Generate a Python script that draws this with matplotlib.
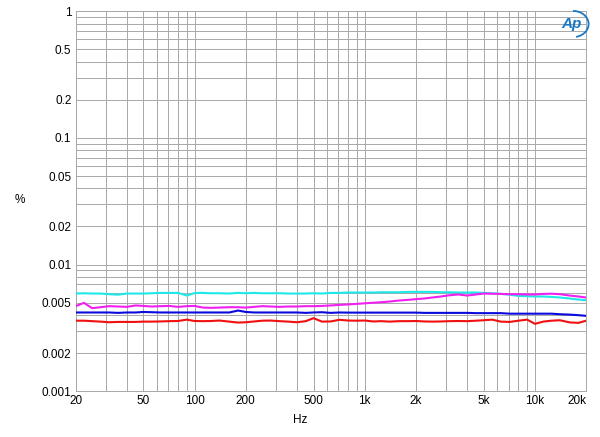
import numpy as np
import matplotlib.pyplot as plt
from matplotlib.patches import Arc

plt.rcParams['font.family'] = ['Liberation Sans', 'DejaVu Sans']

# ---------------------------------------------------------------------------
# Data (THD+N %)
# ---------------------------------------------------------------------------
freqs = [20, 22.4, 25, 28, 31.5, 35.5, 40, 45, 50, 56, 63, 71, 80, 90,
         100, 112, 125, 140, 160, 180, 200, 224, 250, 280, 315, 355, 400, 450,
         500, 560, 630, 710, 800, 900, 1000, 1120, 1250, 1400, 1600, 1800,
         2000, 2240, 2500, 2800, 3150, 3550, 4000, 4500, 5000, 5600, 6300,
         7100, 8000, 9000, 10000, 11200, 12500, 14000, 16000, 18000, 20000]

cyan_vals = [5.90, 5.93, 5.90, 5.90, 5.83, 5.78, 5.90, 5.90, 5.90, 5.93, 5.97,
             5.97, 5.97, 5.69, 5.95, 5.97, 5.93, 5.93, 5.90, 5.97, 5.93, 5.97,
             5.93, 5.93, 5.93, 5.90, 5.90, 5.90, 5.93, 5.90, 5.97, 5.97, 6.01,
             6.01, 6.01, 6.01, 6.04, 6.04, 6.04, 6.08, 6.08, 6.08, 6.08, 6.04,
             6.04, 6.01, 6.01, 6.01, 5.97, 5.93, 5.86, 5.78, 5.65, 5.62, 5.59,
             5.59, 5.55, 5.49, 5.39, 5.29, 5.23]

magenta_vals = [4.69, 4.98, 4.52, 4.60, 4.69, 4.66, 4.63, 4.75, 4.71, 4.66,
                4.69, 4.71, 4.63, 4.69, 4.71, 4.57, 4.55, 4.57, 4.60, 4.60,
                4.57, 4.63, 4.69, 4.66, 4.63, 4.66, 4.66, 4.69, 4.69, 4.71,
                4.75, 4.80, 4.84, 4.89, 4.94, 4.99, 5.04, 5.10, 5.20, 5.26,
                5.33, 5.39, 5.49, 5.59, 5.72, 5.80, 5.69, 5.80, 5.90, 5.88,
                5.86, 5.83, 5.83, 5.80, 5.80, 5.86, 5.88, 5.83, 5.69, 5.59,
                5.49]

blue_vals = [4.18, 4.18, 4.18, 4.18, 4.18, 4.15, 4.18, 4.18, 4.22, 4.20, 4.18,
             4.18, 4.18, 4.18, 4.18, 4.18, 4.18, 4.18, 4.18, 4.33, 4.22, 4.18,
             4.18, 4.18, 4.18, 4.18, 4.18, 4.15, 4.18, 4.20, 4.15, 4.18, 4.17,
             4.17, 4.17, 4.17, 4.17, 4.17, 4.17, 4.17, 4.17, 4.15, 4.15, 4.15,
             4.15, 4.15, 4.15, 4.13, 4.13, 4.13, 4.13, 4.09, 4.09, 4.09, 4.09,
             4.09, 4.09, 4.05, 4.02, 3.98, 3.93]

red_vals = [3.60, 3.60, 3.57, 3.54, 3.50, 3.52, 3.52, 3.52, 3.54, 3.54, 3.55,
            3.57, 3.58, 3.67, 3.58, 3.57, 3.58, 3.61, 3.54, 3.48, 3.50, 3.55,
            3.60, 3.61, 3.57, 3.54, 3.50, 3.57, 3.77, 3.54, 3.55, 3.66, 3.61,
            3.60, 3.61, 3.55, 3.57, 3.54, 3.57, 3.57, 3.58, 3.55, 3.54, 3.55,
            3.57, 3.58, 3.57, 3.60, 3.63, 3.67, 3.54, 3.52, 3.60, 3.67, 3.40,
            3.54, 3.60, 3.63, 3.49, 3.46, 3.60]

series = [
    (cyan_vals, "#1ee8e8"),
    (magenta_vals, "#f020f0"),
    (blue_vals, "#0a0adc"),
    (red_vals, "#f01010"),
]

x_ticks = [20, 50, 100, 200, 500, 1000, 2000, 5000, 10000, 20000]
x_labels = ["20", "50", "100", "200", "500", "1k", "2k", "5k", "10k", "20k"]
y_ticks = [0.001, 0.002, 0.005, 0.01, 0.02, 0.05, 0.1, 0.2, 0.5, 1]
y_labels = ["0.001", "0.002", "0.005", "0.01", "0.02", "0.05", "0.1", "0.2",
            "0.5", "1"]

# ---------------------------------------------------------------------------
# Plot
# ---------------------------------------------------------------------------
fig = plt.figure(figsize=(6.0, 4.37), dpi=100)
ax = fig.add_axes([0.126, 0.105, 0.851, 0.869])

f = np.array(freqs)
for vals, col in series:
    ax.plot(f, np.array(vals) / 1000.0, color=col, lw=1.5, zorder=3)

ax.set_xscale("log")
ax.set_yscale("log")
ax.set_xlim(20, 20000)
ax.set_ylim(0.001, 1)

ax.set_xticks(x_ticks)
ax.set_xticklabels(x_labels)
ax.set_yticks(y_ticks)
ax.set_yticklabels(y_labels)
ax.tick_params(which="both", length=0, labelsize=8.5, pad=3)
for lab in ax.get_xticklabels():
    if lab.get_text() == "20k":
        lab.set_horizontalalignment("right")

ax.grid(True, which="both", color="#a8a8a8", lw=0.7)
for s in ax.spines.values():
    s.set_color("#a8a8a8")
    s.set_linewidth(0.7)

fig.text(0.033, 0.542, "%", fontsize=8.5, ha="center", va="center")
fig.text(0.5, 0.04, "Hz", fontsize=8.5, ha="center", va="center")

# Ap logo
fig.text(0.952, 0.946, "Ap", fontsize=11, color="#1a78c2", style="italic",
         ha="center", va="center", fontweight="bold")
logo = Arc((0.955, 0.945), 0.052, 0.06, angle=0, theta1=-80, theta2=90,
           transform=fig.transFigure, color="#1a78c2", lw=1.3)
fig.add_artist(logo)

plt.savefig("out.png", dpi=100)
